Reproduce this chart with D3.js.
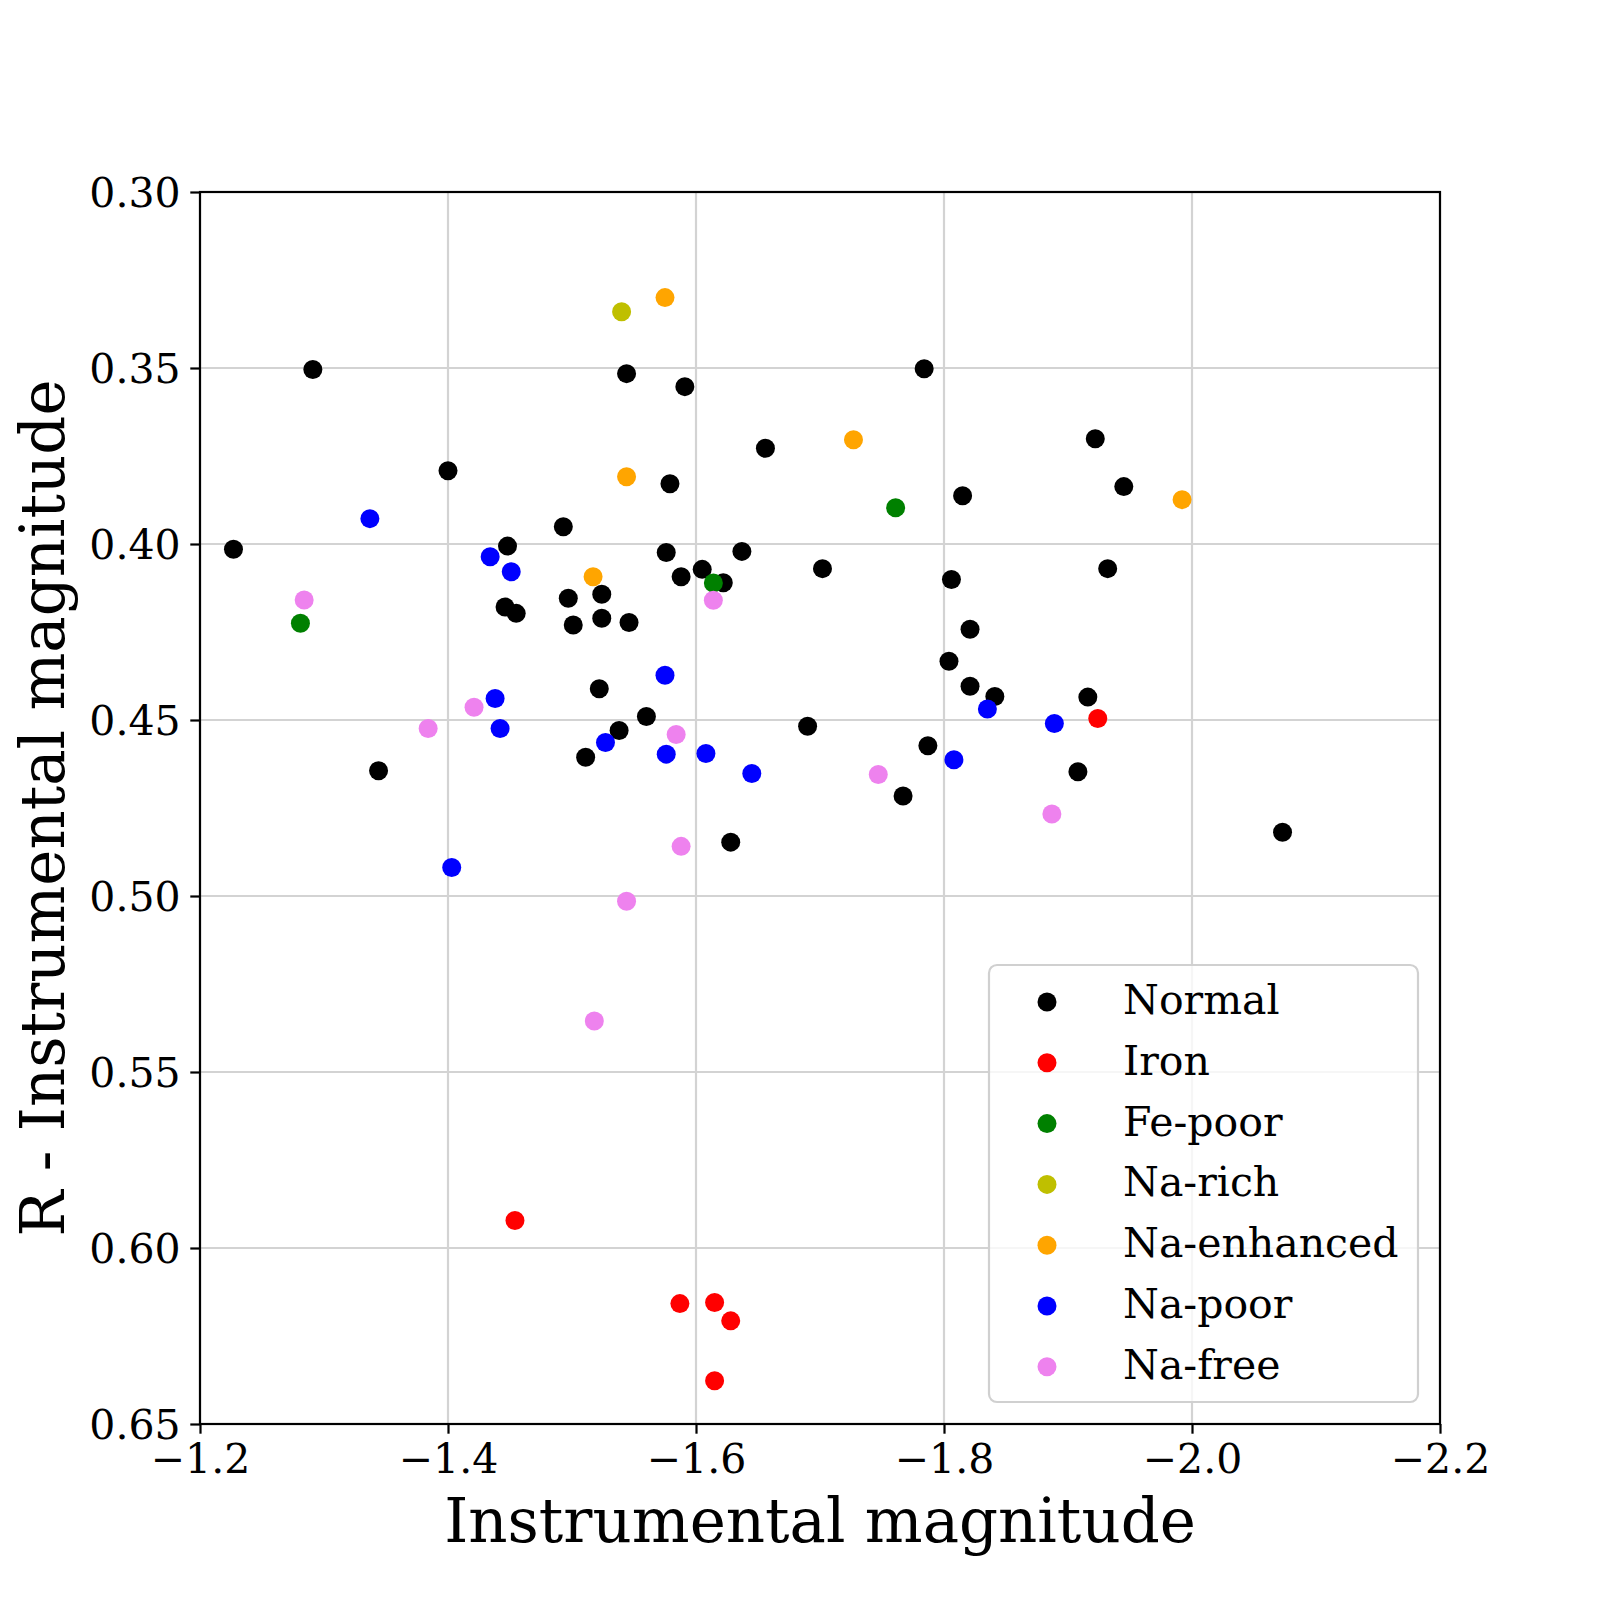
<!DOCTYPE html>
<html>
  <head>
    <meta charset="utf-8">
    <title>Instrumental magnitude scatter</title>
    <script src="https://d3js.org/d3.v7.min.js"></script>
    <style>
      body { margin: 0; background: #fff; }
      svg text { font-family: "DejaVu Serif", serif; fill: #000; }
    </style>
  </head>
  <body>
    <div id="chart"></div>
    <script>
    // data (x = instrumental magnitude, y = R - instrumental magnitude)
    const categories = ["Normal", "Iron", "Fe-poor", "Na-rich", "Na-enhanced", "Na-poor", "Na-free"];
    const colors = ["#000000", "#ff0000", "#008000", "#bfbf00", "#ffa500", "#0000ff", "#ee82ee"];

    const normalX = [-1.227, -1.291, -1.344, -1.400, -1.448, -1.446, -1.455, -1.493, -1.497, -1.501,
                     -1.524, -1.524, -1.546, -1.522, -1.511, -1.538, -1.560, -1.544, -1.591, -1.579,
                     -1.576, -1.588, -1.605, -1.622, -1.637, -1.656, -1.628, -1.702, -1.690, -1.784,
                     -1.815, -1.806, -1.821, -1.804, -1.821, -1.841, -1.787, -1.767, -1.922, -1.945,
                     -1.932, -1.916, -1.908, -2.073];
    const normalY = [0.4015, 0.3504, 0.4644, 0.3792, 0.4006, 0.4179, 0.4197, 0.3951, 0.4154, 0.4230,
                     0.4143, 0.4211, 0.4223, 0.4411, 0.4606, 0.4530, 0.4490, 0.3516, 0.3553, 0.3829,
                     0.4024, 0.4093, 0.4072, 0.4110, 0.4021, 0.3728, 0.4847, 0.4070, 0.4518, 0.3502,
                     0.3863, 0.4101, 0.4242, 0.4333, 0.4404, 0.4433, 0.4573, 0.4716, 0.3701, 0.3837,
                     0.4070, 0.4435, 0.4647, 0.4819];
    const ironX = [-1.454, -1.587, -1.615, -1.628, -1.615, -1.924];
    const ironY = [0.5922, 0.6158, 0.6155, 0.6207, 0.6377, 0.4496];
    const fePoorX = [-1.281, -1.614, -1.761];
    const fePoorY = [0.4225, 0.4111, 0.3897];
    const naRichX = [-1.540];
    const naRichY = [0.3340];
    const naEnhancedX = [-1.575, -1.544, -1.517, -1.727, -1.992];
    const naEnhancedY = [0.3300, 0.3809, 0.4093, 0.3704, 0.3874];
    const naPoorX = [-1.337, -1.434, -1.451, -1.575, -1.438, -1.442, -1.527, -1.576, -1.608, -1.645,
                     -1.403, -1.835, -1.889, -1.808];
    const naPoorY = [0.3928, 0.4036, 0.4079, 0.4373, 0.4439, 0.4524, 0.4564, 0.4597, 0.4595, 0.4652,
                     0.4919, 0.4469, 0.4510, 0.4613];
    const naFreeX = [-1.284, -1.614, -1.421, -1.384, -1.584, -1.747, -1.887, -1.588, -1.544, -1.518];
    const naFreeY = [0.4159, 0.4160, 0.4464, 0.4524, 0.4541, 0.4655, 0.4767, 0.4859, 0.5015, 0.5355];

    const xTicks = [-1.2, -1.4, -1.6, -1.8, -2.0, -2.2];
    const yTicks = [0.30, 0.35, 0.40, 0.45, 0.50, 0.55, 0.60, 0.65];

    const seriesX = [normalX, ironX, fePoorX, naRichX, naEnhancedX, naPoorX, naFreeX];
    const seriesY = [normalY, ironY, fePoorY, naRichY, naEnhancedY, naPoorY, naFreeY];

    // layout
    const W = 1600, H = 1600;
    const margin = {left: 200, right: 160, top: 192, bottom: 176};
    const tickLen = 9.7, tickFont = 41, labelFont = 61;

    const svg = d3.select("#chart").append("svg")
      .attr("width", W).attr("height", H);

    const x = d3.scaleLinear().domain([-1.2, -2.2]).range([margin.left, W - margin.right]);
    const y = d3.scaleLinear().domain([0.30, 0.65]).range([margin.top, H - margin.bottom]);

    // grid
    const grid = svg.append("g");
    grid.selectAll(".gx").data(xTicks).enter().append("line")
      .attr("x1", d => x(d)).attr("x2", d => x(d))
      .attr("y1", y(0.30)).attr("y2", y(0.65))
      .attr("stroke", "#d3d3d3").attr("stroke-width", 2.2);
    grid.selectAll(".gy").data(yTicks).enter().append("line")
      .attr("x1", x(-1.2)).attr("x2", x(-2.2))
      .attr("y1", d => y(d)).attr("y2", d => y(d))
      .attr("stroke", "#d3d3d3").attr("stroke-width", 2.2);

    // points, drawn in legend order so later groups sit on top
    categories.forEach((c, i) => {
      const pts = seriesX[i].map((v, j) => [v, seriesY[i][j]]);
      svg.append("g").selectAll("circle").data(pts).enter().append("circle")
        .attr("cx", d => x(d[0]))
        .attr("cy", d => y(d[1]))
        .attr("r", 9.5)
        .attr("fill", colors[i]);
    });

    // axes
    const xAxis = svg.append("g")
      .attr("transform", `translate(0,${H - margin.bottom})`)
      .call(d3.axisBottom(x).tickValues(xTicks).tickFormat(d3.format(".1f"))
        .tickSize(tickLen).tickPadding(9.7).tickSizeOuter(0));
    const yAxis = svg.append("g")
      .attr("transform", `translate(${margin.left},0)`)
      .call(d3.axisLeft(y).tickValues(yTicks).tickFormat(d3.format(".2f"))
        .tickSize(tickLen).tickPadding(9.7).tickSizeOuter(0));
    [xAxis, yAxis].forEach(a => {
      a.select(".domain").remove();
      a.selectAll(".tick line").attr("stroke", "#000").attr("stroke-width", 2.2);
      a.selectAll(".tick text").style("font-family", "DejaVu Serif").style("font-size", tickFont + "px");
    });
    yAxis.selectAll(".tick text").attr("dy", "0.36em");
    xAxis.selectAll(".tick text").attr("dy", "0.73em");

    // frame
    svg.append("rect")
      .attr("x", x(-1.2)).attr("y", y(0.30))
      .attr("width", x(-2.2) - x(-1.2)).attr("height", y(0.65) - y(0.30))
      .attr("fill", "none").attr("stroke", "#000").attr("stroke-width", 2.2);

    // axis labels
    svg.append("text")
      .attr("x", (x(-1.2) + x(-2.2)) / 2)
      .attr("y", 1542)
      .attr("text-anchor", "middle")
      .style("font-size", labelFont + "px")
      .text("Instrumental magnitude");
    svg.append("text")
      .attr("transform", `translate(64,${(y(0.30) + y(0.65)) / 2}) rotate(-90)`)
      .attr("text-anchor", "middle")
      .style("font-size", labelFont + "px")
      .text("R - Instrumental magnitude");

    // legend
    const legend = svg.append("g").attr("transform", "translate(989,965)");
    legend.append("rect")
      .attr("width", 429).attr("height", 437)
      .attr("rx", 8).attr("ry", 8)
      .attr("fill", "#fff").attr("fill-opacity", 0.8)
      .attr("stroke", "#d0d0d0").attr("stroke-width", 2.2);
    const item = legend.selectAll(".item").data(categories).enter().append("g")
      .attr("transform", (d, i) => `translate(0,${37 + i * 60.8})`);
    item.append("circle")
      .attr("cx", 58).attr("cy", 0).attr("r", 9.5)
      .attr("fill", (d, i) => colors[i]);
    item.append("text")
      .attr("x", 134).attr("y", 12)
      .style("font-size", "41px")
      .text(d => d);
    </script>
  </body>
</html>
